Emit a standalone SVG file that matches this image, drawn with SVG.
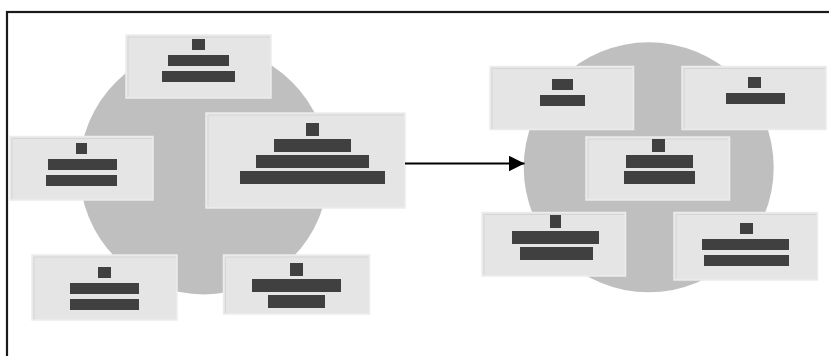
<svg xmlns="http://www.w3.org/2000/svg" width="829" height="356" viewBox="0 0 829 356">
<defs>
<style>
.bg{fill:#ffffff}
.frame{fill:none;stroke:#1a1a1a;stroke-width:2.2}
.disc{fill:#bfbfbf}
.box{fill:#e5e5e5;stroke:#ececec;stroke-width:1.5}
.hl{fill:none;stroke:#d6d6d6;stroke-width:1}
.bar{fill:#404040}
.conn{fill:none;stroke:#000;stroke-width:2}
</style>
<marker id="arr" viewBox="0 0 16 16" refX="16" refY="8" markerWidth="16" markerHeight="16" markerUnits="userSpaceOnUse" orient="auto">
<path d="M0,0 L16,8 L0,16 Z" fill="#000"/>
</marker>
</defs>
<rect class="bg" x="0" y="0" width="829" height="356"/>
<rect class="frame" x="7" y="12" width="840" height="360"/>
<g id="groupA">
<circle class="disc" cx="204" cy="170" r="124.5"/>
</g>
<g id="groupB">
<circle class="disc" cx="648.7" cy="167.3" r="125"/>
</g>
<g id="a-top">
<rect class="box" x="126" y="35" width="145" height="63"/>
<polyline class="hl" points="128,97 128,37 270,37"/>
<rect class="bar" x="192" y="39" width="13" height="11"/>
<rect class="bar" x="168" y="55" width="61" height="11"/>
<rect class="bar" x="162" y="71" width="73" height="11"/>
</g>
<g id="a-left">
<rect class="box" x="10" y="136.5" width="143" height="63.5"/>
<polyline class="hl" points="12,199 12,138.5 152,138.5"/>
<rect class="bar" x="76" y="143" width="11" height="11"/>
<rect class="bar" x="48" y="159" width="69" height="11"/>
<rect class="bar" x="46" y="175" width="71" height="11"/>
</g>
<g id="a-big">
<rect class="box" x="206" y="113" width="199" height="95"/>
<polyline class="hl" points="208,207 208,115 404,115"/>
<rect class="bar" x="306" y="123" width="13" height="13"/>
<rect class="bar" x="274" y="139" width="77" height="13"/>
<rect class="bar" x="256" y="155" width="113" height="13"/>
<rect class="bar" x="240" y="171" width="145" height="13"/>
</g>
<g id="a-bl">
<rect class="box" x="32" y="255" width="145" height="65"/>
<polyline class="hl" points="34,319 34,257 176,257"/>
<rect class="bar" x="98" y="267" width="13" height="11"/>
<rect class="bar" x="70" y="283" width="69" height="11"/>
<rect class="bar" x="70" y="299" width="69" height="11"/>
</g>
<g id="a-br">
<rect class="box" x="223.5" y="255" width="146" height="59"/>
<polyline class="hl" points="225.5,313 225.5,257 368,257"/>
<rect class="bar" x="290" y="263" width="13" height="13"/>
<rect class="bar" x="252" y="279" width="89" height="13"/>
<rect class="bar" x="268" y="295" width="57" height="13"/>
</g>
<g id="b-tl">
<rect class="box" x="490" y="66.5" width="143.5" height="63"/>
<polyline class="hl" points="492,129 492,68.5 632,68.5"/>
<rect class="bar" x="552" y="79" width="21" height="11"/>
<rect class="bar" x="540" y="95" width="45" height="11"/>
</g>
<g id="b-tr">
<rect class="box" x="682" y="66.5" width="144" height="63"/>
<polyline class="hl" points="684,129 684,68.5 825,68.5"/>
<rect class="bar" x="748" y="77" width="13" height="11"/>
<rect class="bar" x="726" y="93" width="59" height="11"/>
</g>
<g id="b-center">
<rect class="box" x="586" y="137" width="143.5" height="63"/>
<polyline class="hl" points="588,199 588,139 728,139"/>
<rect class="bar" x="652" y="139" width="13" height="13"/>
<rect class="bar" x="626" y="155" width="67" height="13"/>
<rect class="bar" x="624" y="171" width="71" height="13"/>
</g>
<g id="b-bl">
<rect class="box" x="482" y="212.5" width="143.5" height="63.5"/>
<polyline class="hl" points="484,275 484,214.5 624,214.5"/>
<rect class="bar" x="550" y="215" width="11" height="13"/>
<rect class="bar" x="512" y="231" width="87" height="13"/>
<rect class="bar" x="520" y="247" width="73" height="13"/>
</g>
<g id="b-br">
<rect class="box" x="674" y="212.5" width="143.5" height="67.5"/>
<polyline class="hl" points="676,279 676,214.5 816,214.5"/>
<rect class="bar" x="740" y="223" width="13" height="11"/>
<rect class="bar" x="702" y="239" width="87" height="11"/>
<rect class="bar" x="704" y="255" width="85" height="11"/>
</g>
<g id="connectors">
<line class="conn" x1="405" y1="163.5" x2="524.5" y2="163.5" marker-end="url(#arr)"/>
</g>
</svg>
